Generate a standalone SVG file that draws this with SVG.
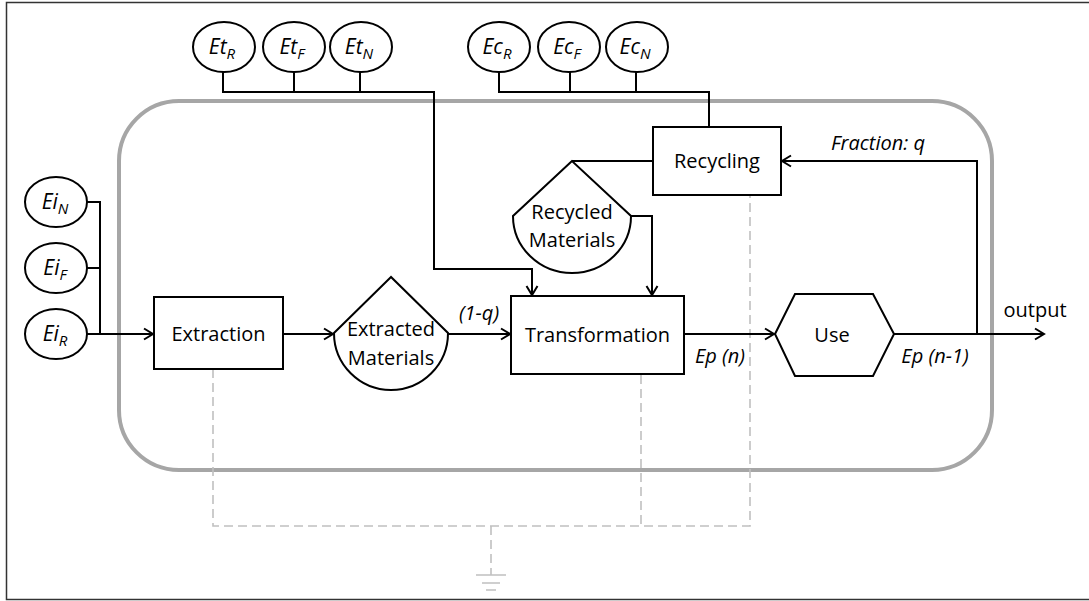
<svg xmlns="http://www.w3.org/2000/svg" width="1089" height="601" viewBox="0 0 1089 601">
<defs>
<style>
.ln{fill:none;stroke:#000;stroke-width:2}
.box{fill:#fff;stroke:#000;stroke-width:2}
.dash{fill:none;stroke:#c0c0c0;stroke-width:1.6;stroke-dasharray:9 5}
.gnd{fill:none;stroke:#c0c0c0;stroke-width:1.6}
.t{font-family:"Open Sans","Liberation Sans",sans-serif;font-size:20px;fill:#000;text-anchor:middle}
.c{font-size:21px}
.i{font-style:italic}
.sub{font-size:15px}
</style>
<marker id="arr" markerUnits="userSpaceOnUse" markerWidth="14" markerHeight="14" refX="11" refY="7" orient="auto">
<path d="M2,1.5 L11,7 L2,12.5" fill="none" stroke="#000" stroke-width="2"/>
</marker>
</defs>
<rect width="1089" height="601" fill="#fff"/>
<rect x="6.5" y="2.5" width="1120" height="597" fill="none" stroke="#333" stroke-width="1.5"/>
<rect id="system" x="119" y="101" width="873" height="369" rx="60" ry="60" fill="none" stroke="#a6a6a6" stroke-width="4"/>

<g id="connectors">
<path class="dash" d="M213,369 V526 H750 V196 M641,375 V526 M491,526 V575"/>
<path class="ln" d="M223,72 V92 H434 V269 H532 V295" marker-end="url(#arr)"/>
<path class="ln" d="M294,72 V92 M360,72 V92"/>
<path class="ln" d="M499,72 V92 H709 V127 M570,72 V92 M636,72 V92"/>
<path class="ln" d="M87,202 H100 V334 M87,268 H100"/>
<path class="ln" d="M87,334 H153" marker-end="url(#arr)"/>
<path class="ln" d="M283,334 H333" marker-end="url(#arr)"/>
<path class="ln" d="M448,334 H510" marker-end="url(#arr)"/>
<path class="ln" d="M684,334 H774" marker-end="url(#arr)"/>
<path class="ln" d="M894,334 H1044" marker-end="url(#arr)"/>
<path class="ln" d="M977,334 V161 H782" marker-end="url(#arr)"/>
<path class="ln" d="M653,161 H572"/>
<path class="ln" d="M631,216 H652 V295" marker-end="url(#arr)"/>
</g>

<g id="ground">
<path class="gnd" d="M476,575 H506 M482,583 H500 M486,590 H496"/>
</g>

<g id="EtR"><ellipse class="box" cx="224" cy="47" rx="31" ry="25"/><text class="t c i" x="222" y="54">Et<tspan class="sub" dy="5">R</tspan></text></g>
<g id="EtF"><ellipse class="box" cx="294" cy="47" rx="31" ry="25"/><text class="t c i" x="292" y="54">Et<tspan class="sub" dy="5">F</tspan></text></g>
<g id="EtN"><ellipse class="box" cx="361" cy="47" rx="31" ry="25"/><text class="t c i" x="359" y="54">Et<tspan class="sub" dy="5">N</tspan></text></g>

<g id="EcR"><ellipse class="box" cx="499" cy="47" rx="31" ry="25"/><text class="t c i" x="497" y="54">Ec<tspan class="sub" dy="5">R</tspan></text></g>
<g id="EcF"><ellipse class="box" cx="569" cy="47" rx="31" ry="25"/><text class="t c i" x="567" y="54">Ec<tspan class="sub" dy="5">F</tspan></text></g>
<g id="EcN"><ellipse class="box" cx="637" cy="47" rx="31" ry="25"/><text class="t c i" x="635" y="54">Ec<tspan class="sub" dy="5">N</tspan></text></g>

<g id="EiN"><ellipse class="box" cx="56" cy="202" rx="31" ry="25"/><text class="t c i" x="55" y="209">Ei<tspan class="sub" dy="5">N</tspan></text></g>
<g id="EiF"><ellipse class="box" cx="56" cy="268" rx="31" ry="25"/><text class="t c i" x="55" y="275">Ei<tspan class="sub" dy="5">F</tspan></text></g>
<g id="EiR"><ellipse class="box" cx="56" cy="334" rx="31" ry="25"/><text class="t c i" x="55" y="341">Ei<tspan class="sub" dy="5">R</tspan></text></g>

<g id="extraction"><rect class="box" x="154" y="297" width="129" height="72"/><text class="t" x="218.5" y="341">Extraction</text></g>

<g id="extracted"><path class="box" d="M391,277 L334,333 A57,57 0 0 0 448,333 Z"/><text class="t" x="391" y="336">Extracted</text><text class="t" x="391" y="365">Materials</text></g>

<g id="transformation"><rect class="box" x="511" y="296" width="173" height="78"/><text class="t" x="597.5" y="342">Transformation</text></g>

<g id="recycling"><rect class="box" x="653" y="127" width="128" height="68"/><text class="t" x="717" y="168">Recycling</text></g>

<g id="recycled"><path class="box" d="M572,161 L513,216 A59,57 0 0 0 631,216 Z"/><text class="t" x="572" y="219">Recycled</text><text class="t" x="572" y="247">Materials</text></g>

<g id="use"><path class="box" d="M775,334 L795,294 H873 L894,334 L873,376 H795 Z"/><text class="t" x="832" y="342">Use</text></g>

<g id="labels">
<text class="t i" x="479" y="320">(1-q)</text>
<text class="t i" x="720" y="363">Ep (n)</text>
<text class="t i" x="935" y="363">Ep (n-1)</text>
<text class="t i" x="878" y="150">Fraction: q</text>
<text class="t" x="1035" y="317">output</text>
</g>
</svg>
